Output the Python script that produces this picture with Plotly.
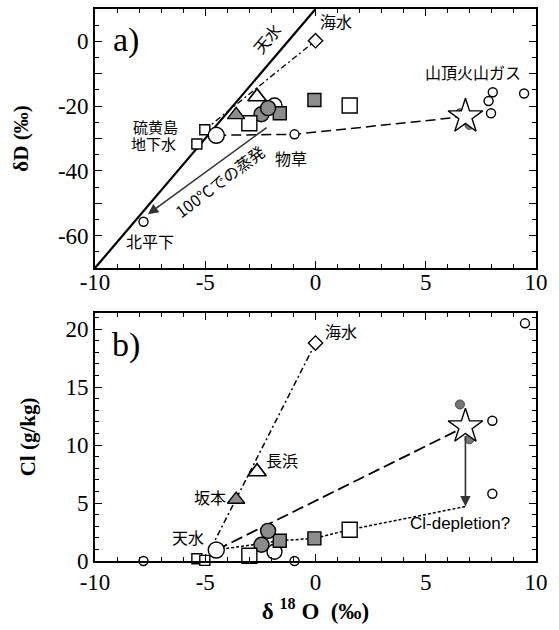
import plotly.graph_objects as go

# ---------------- data (δ18O, δD, Cl) ----------------
# meteoric water line (天水) end points
mwl_x = [-10.0, 0.0]
mwl_dD = [-70.0, 10.0]

# 北平下
kita_x = [-7.8]
kita_dD = [-55.7]
kita_cl = [0.0]

# 物草
mono_x = [-0.95]
mono_dD = [-28.7]
mono_cl = [0.0]

# 天水 (big open circle)
rain_x = [-4.5]
rain_dD = [-29.0]
rain_cl = [0.95]

# 硫黄島地下水 (small squares)
gw_x = [-5.38, -5.02]
gw_dD = [-31.7, -27.3]
gw_cl = [0.2, 0.05]

# 海水
sea_x = [0.0]
sea_dD = [0.2]
sea_cl = [18.8]

# 坂本 (hatched triangle), 長浜 (open triangle)
saka_x = [-3.6]
saka_dD = [-22.7]
saka_cl = [5.3]
naga_x = [-2.65]
naga_dD = [-17.1]
naga_cl = [7.7]

# big open squares
bsq_x = [-3.0, 1.55]
bsq_dD = [-25.3, -19.8]
bsq_cl = [0.45, 2.7]

# hatched squares
hsq_x = [-1.62, -0.05]
hsq_dD = [-22.2, -18.1]
hsq_cl = [1.75, 1.95]

# open medium circle
oc_x = [-1.86]
oc_dD = [-19.8]
oc_cl = [0.8]

# hatched circles
hc_x = [-2.45, -2.15]
hc_dD = [-22.5, -20.6]
hc_cl = [1.4, 2.6]

# star (estimated end member)
star_x = [6.8]
star_dD = [-23.2]
star_cl = [11.6]

# grey filled circles near star
gc_x = [6.55, 6.98]
gc_dD = [-22.2, -25.8]
gc_cl = [13.5, 10.5]

# 山頂火山ガス (summit gas) circles
gas_x_a = [8.04, 7.85, 7.96, 9.46]
gas_dD = [-15.7, -18.4, -22.2, -16.1]
gas_x_b = [9.5, 8.02, 8.02]
gas_cl = [20.5, 12.1, 5.8]

# evaporation arrow at 100 ℃ (tail -> head)
evap_x = [-2.15, -7.6]
evap_dD = [-26.3, -53.4]

# Cl-depletion arrow (tail -> head)
depl_x = [6.8, 6.8]
depl_cl = [10.9, 4.7]

# dotted mixing line in panel b
dot_x = [-4.5, -1.62, -0.05, 1.55, 6.8]
dot_cl = [0.95, 1.75, 1.95, 2.7, 4.7]

# tick labels
x_ticks = [-10, -5, 0, 5, 10]
x_ticktext = ["-10", "-5", "0", "5", "10"]
ya_ticks = [-70, -60, -50, -40, -30, -20, -10, 0, 10]
ya_ticktext = ["", "-60", "", "-40", "", "-20", "", "0", ""]
yb_ticks = [0, 5, 10, 15, 20]
yb_ticktext = ["0", "5", "10", "15", "20"]

# ---------------- figure ----------------
SERIF = "Liberation Serif, Times New Roman, serif"
JP = "Noto Sans CJK JP"
HATCH = "#8c8c8c"
ML = dict(color="black", width=1.4)

fig = go.Figure()


def add(x, y, panel, **kw):
    xa, ya = ("x", "y") if panel == "a" else ("x2", "y2")
    fig.add_trace(go.Scatter(x=x, y=y, xaxis=xa, yaxis=ya, showlegend=False,
                             hoverinfo="skip", cliponaxis=False, **kw))


# ---- panel a lines ----
add(mwl_x, mwl_dD, "a", mode="lines", line=dict(color="black", width=2.2))
add([gw_x[1], sea_x[0]], [gw_dD[1], sea_dD[0]], "a", mode="lines",
    line=dict(color="black", width=1.3, dash="6px,3px,2px,3px"))
add([rain_x[0], mono_x[0], star_x[0]], [rain_dD[0], mono_dD[0], star_dD[0]], "a",
    mode="lines", line=dict(color="black", width=1.5, dash="10px,5px"))

# ---- panel b lines ----
add([gw_x[1], sea_x[0]], [gw_cl[1], sea_cl[0]], "b", mode="lines",
    line=dict(color="black", width=1.5, dash="6px,3px,2px,3px"))
add([rain_x[0], star_x[0]], [rain_cl[0], star_cl[0]], "b", mode="lines",
    line=dict(color="black", width=1.8, dash="12px,5px"))
add(dot_x, dot_cl, "b", mode="lines", line=dict(color="black", width=1.5, dash="3px,2px"))

# ---- markers (both panels) ----
for panel in ("a", "b"):
    A = panel == "a"
    add(kita_x, kita_dD if A else kita_cl, panel, mode="markers",
        marker=dict(symbol="circle", size=9, color="white", line=ML))
    add(mono_x, mono_dD if A else mono_cl, panel, mode="markers",
        marker=dict(symbol="circle", size=9, color="white", line=ML))
    add(oc_x, oc_dD if A else oc_cl, panel, mode="markers",
        marker=dict(symbol="circle", size=15, color="white", line=ML))
    add(hsq_x, hsq_dD if A else hsq_cl, panel, mode="markers",
        marker=dict(symbol="square", size=13, color=HATCH, line=ML))
    add(hc_x, hc_dD if A else hc_cl, panel, mode="markers",
        marker=dict(symbol="circle", size=15, color=HATCH, line=ML))
    add(bsq_x, bsq_dD if A else bsq_cl, panel, mode="markers",
        marker=dict(symbol="square", size=15, color="white", line=ML))
    add(saka_x, saka_dD if A else saka_cl, panel, mode="markers",
        marker=dict(symbol="triangle-up", size=15, color=HATCH, line=ML))
    add(naga_x, naga_dD if A else naga_cl, panel, mode="markers",
        marker=dict(symbol="triangle-up", size=16, color="white", line=dict(color="black", width=1.7)))
    add(gw_x, gw_dD if A else gw_cl, panel, mode="markers",
        marker=dict(symbol="square", size=10, color="white", line=ML))
    add(rain_x, rain_dD if A else rain_cl, panel, mode="markers",
        marker=dict(symbol="circle", size=16, color="white", line=ML))
    add(sea_x, sea_dD if A else sea_cl, panel, mode="markers",
        marker=dict(symbol="diamond", size=11, color="white", line=ML))
    add(gc_x, gc_dD if A else gc_cl, panel, mode="markers",
        marker=dict(symbol="circle", size=9, color="#777777", line=dict(color="#444", width=1)))
    add(star_x, star_dD if A else star_cl, panel, mode="markers",
        marker=dict(symbol="star", size=26, color="white", line=ML))
    add(gas_x_a if A else gas_x_b, gas_dD if A else gas_cl, panel, mode="markers",
        marker=dict(symbol="circle", size=9, color="white", line=ML))

# ---- arrows ----
fig.add_annotation(x=evap_x[1], y=evap_dD[1], ax=evap_x[0], ay=evap_dD[0],
                   xref="x", yref="y", axref="x", ayref="y", text="",
                   showarrow=True, arrowhead=2, arrowsize=1.3, arrowwidth=1.6,
                   arrowcolor="#333333")
fig.add_annotation(x=depl_x[1], y=depl_cl[1], ax=depl_x[0], ay=depl_cl[0],
                   xref="x2", yref="y2", axref="x2", ayref="y2", text="",
                   showarrow=True, arrowhead=2, arrowsize=1.3, arrowwidth=1.6,
                   arrowcolor="#333333")

# ---- text labels ----
labels = [
    # text, x, y, panel, font family, size, angle
    ("a)", -8.6, 0.5, "a", SERIF, 34, 0),
    ("b)", -8.6, 18.6, "b", SERIF, 34, 0),
    ("天水", -2.2, 0.9, "a", JP, 16, -50),
    ("海水", 0.95, 6.3, "a", JP, 16, 0),
    ("硫黄島", -7.25, -26.3, "a", JP, 15, 0),
    ("地下水", -7.35, -31.6, "a", JP, 15, 0),
    ("物草", -1.1, -36.0, "a", JP, 16, 0),
    ("北平下", -7.5, -61.5, "a", JP, 16, 0),
    ("100℃での蒸発", -4.35, -43.0, "a", JP, 16, -37),
    ("山頂火山ガス", 7.15, -9.3, "a", JP, 16, 0),
    ("海水", 1.15, 19.8, "b", JP, 16, 0),
    ("長浜", -1.5, 8.7, "b", JP, 16, 0),
    ("坂本", -4.8, 5.5, "b", JP, 16, 0),
    ("天水", -5.8, 2.1, "b", JP, 16, 0),
    ("Cl-depletion?", 6.55, 3.2, "b", "Liberation Sans", 17, 0),
]
for t, x, y, p, fam, sz, ang in labels:
    fig.add_annotation(x=x, y=y, text=t, xref="x" if p == "a" else "x2",
                       yref="y" if p == "a" else "y2", showarrow=False,
                       textangle=ang, borderpad=0,
                       font=dict(family=fam, size=sz, color="black"))

# ---------------- axes ----------------
TICKFONT = dict(family=SERIF, size=23, color="black")
common_x = dict(range=[-10, 10], tickvals=x_ticks, ticktext=x_ticktext,
                ticks="inside", ticklen=7, tickwidth=1.3, tickcolor="black",
                minor=dict(dtick=1, ticks="inside", ticklen=4, tickcolor="black", tickwidth=1),
                showline=True, linecolor="black", linewidth=1.6, mirror="ticks",
                showgrid=False, zeroline=False, tickfont=TICKFONT)

fig.update_layout(
    width=559, height=630,
    margin=dict(l=95, r=23, t=7, b=69),
    paper_bgcolor="white", plot_bgcolor="white",
    font=dict(family=SERIF, color="black"),
    xaxis=dict(domain=[0, 1], anchor="y", ticklabelstandoff=-7, **common_x),
    xaxis2=dict(domain=[0, 1], anchor="y2", **common_x,
                title=dict(text="<b>δ <sup>18</sup> O  (‰)</b>", standoff=2,
                           font=dict(family=SERIF, size=23, color="black"))),
    yaxis=dict(domain=[0.5307, 1.0], anchor="x", range=[-70, 10],
               tickvals=ya_ticks, ticktext=ya_ticktext,
               ticks="inside", ticklen=7, tickwidth=1.3, tickcolor="black",
               minor=dict(dtick=5, ticks="inside", ticklen=4, tickcolor="black", tickwidth=1),
               showline=True, linecolor="black", linewidth=1.6, mirror="ticks",
               showgrid=False, zeroline=False, tickfont=TICKFONT,
               title=dict(text="<b>δD (‰)</b>", standoff=24,
                          font=dict(family=SERIF, size=21, color="black"))),
    yaxis2=dict(domain=[0, 0.4495], anchor="x2", range=[0, 21.4],
                tickvals=yb_ticks, ticktext=yb_ticktext,
                ticks="inside", ticklen=7, tickwidth=1.3, tickcolor="black",
                minor=dict(dtick=1, ticks="inside", ticklen=4, tickcolor="black", tickwidth=1),
                showline=True, linecolor="black", linewidth=1.6, mirror="ticks",
                showgrid=False, zeroline=False, tickfont=TICKFONT,
                title=dict(text="<b>Cl (g/kg)</b>", standoff=24,
                           font=dict(family=SERIF, size=21, color="black"))),
)

fig.write_html("out.html", config={"displayModeBar": False},
               post_script="document.body.style.margin='0';"
                           "document.documentElement.style.overflow='hidden';")
